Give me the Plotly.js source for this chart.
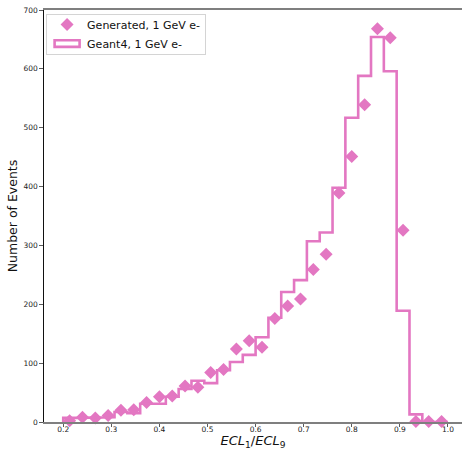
<!DOCTYPE html>
<html>
<head>
<meta charset="utf-8">
<script src="https://cdn.plot.ly/plotly-3.0.1.min.js"></script>
<style>html,body{margin:0;padding:0;background:#fff;}#chart{width:462px;height:450px;}</style>
</head>
<body>
<div id="chart"></div>
<script>
// Bin settings (30 bins from 0.2 to 1.0)
const binStart = 0.2;
const binEnd = 1.0;
const nBins = 30;

// Generated, 1 GeV e- (counts at bin centres)
const generatedCounts = [2, 8, 7, 11, 20, 21, 33, 43, 44, 61, 59, 84, 89, 124, 138, 127, 176, 197, 209, 259, 285, 389, 451, 539, 668, 653, 326, 1, 1, 1];

// Geant4, 1 GeV e- (histogram counts per bin)
const geantCounts = [7, 7, 7, 8, 17, 15, 31, 31, 43, 56, 70, 66, 88, 102, 114, 144, 177, 221, 241, 307, 322, 398, 517, 588, 654, 596, 189, 13, 0, 0];

const xTickVals = [0.2, 0.3, 0.4, 0.5, 0.6, 0.7, 0.8, 0.9, 1.0];
const xTickText = ["0.2", "0.3", "0.4", "0.5", "0.6", "0.7", "0.8", "0.9", "1.0"];
const yTickVals = [0, 100, 200, 300, 400, 500, 600, 700];

const pink = '#e377c2';
const w = (binEnd - binStart) / nBins;
const edges = [];
for (let i = 0; i <= nBins; i++) edges.push(binStart + i * w);
const centres = [];
for (let i = 0; i < nBins; i++) centres.push(binStart + (i + 0.5) * w);

// step outline
const stepX = [edges[0]];
const stepY = [0];
for (let i = 0; i < nBins; i++) {
  stepX.push(edges[i]); stepY.push(geantCounts[i]);
  stepX.push(edges[i + 1]); stepY.push(geantCounts[i]);
}
stepX.push(edges[nBins]); stepY.push(0);

const traces = [
  {
    x: centres, y: generatedCounts, type: 'scatter', mode: 'markers',
    name: 'Generated, 1 GeV e-',
    marker: {symbol: 'diamond', size: 10, color: pink, line: {width: 0}},
    cliponaxis: false
  },
  {
    x: stepX, y: stepY, type: 'scatter', mode: 'lines',
    name: 'Geant4, 1 GeV e-', showlegend: false,
    line: {color: pink, width: 2.6}
  },
  {
    // legend entry for the step histogram (outlined box)
    x: [null], y: [null], type: 'bar',
    name: 'Geant4, 1 GeV e-',
    marker: {color: 'rgba(0,0,0,0)', line: {color: pink, width: 2.6}}
  }
];

const tickFont = {family: 'DejaVu Sans', size: 7.5, color: '#222'};
const layout = {
  width: 462, height: 450,
  margin: {l: 44, r: 0, t: 10, b: 28},
  paper_bgcolor: '#fff', plot_bgcolor: '#fff',
  font: {family: 'DejaVu Sans', color: '#111'},
  showlegend: true,
  legend: {
    x: 0.005, y: 0.990, xanchor: 'left', yanchor: 'top',
    bgcolor: 'rgba(255,255,255,0.9)', bordercolor: '#d4d4d4', borderwidth: 1,
    font: {family: 'DejaVu Sans', size: 11, color: '#111'},
    itemwidth: 30, tracegroupgap: 0, traceorder: 'normal'
  },
  xaxis: {
    range: [0.16, 1.0292], tickvals: xTickVals, ticktext: xTickText,
    ticks: 'outside', ticklen: 3.5, tickwidth: 0.8, tickcolor: '#333',
    ticklabelstandoff: -4,
    tickfont: tickFont, showgrid: false, zeroline: false,
    showline: true, linecolor: '#7f7f7f', linewidth: 1.6, mirror: true,
    title: {text: '<i>ECL</i><sub>1</sub>/<i>ECL</i><sub>9</sub>', font: {family: 'DejaVu Sans', size: 13, color: '#111'}, standoff: 12}
  },
  yaxis: {
    range: [0, 700], tickvals: yTickVals,
    ticks: 'outside', ticklen: 3.5, tickwidth: 0.8, tickcolor: '#333',
    tickfont: tickFont, showgrid: false, zeroline: false,
    showline: true, linecolor: '#111', linewidth: 1.2,
    title: {text: 'Number of Events', font: {family: 'DejaVu Sans', size: 12.5, color: '#111'}, standoff: 3}
  }
};

function fixLegend(gd) {
  const leg = gd.querySelector('g.legend');
  if (!leg || leg.getAttribute('data-fixed')) return;
  leg.setAttribute('data-fixed', '1');
  // wide outlined rectangle like matplotlib's step-histogram legend patch
  leg.querySelectorAll('path').forEach(function (p) {
    const d = (p.getAttribute('d') || '').replace(/\s/g, '');
    if (d === 'M6,6H-6V-6H6Z') p.setAttribute('d', 'M12.5,3.3H-12.5V-3.3H12.5Z');
  });
  // tighten vertical padding
  const shift = 5;
  leg.querySelectorAll('g.traces').forEach(function (t) {
    const tr = t.getAttribute('transform') || '';
    const m = tr.match(/translate\(\s*([-\d.e]+)[ ,]+([-\d.e]+)\s*\)/);
    if (m) t.setAttribute('transform', 'translate(' + m[1] + ',' + (parseFloat(m[2]) - shift) + ')');
  });
  const bg = leg.querySelector('rect.bg');
  if (bg) {
    const h = parseFloat(bg.getAttribute('height'));
    if (!isNaN(h)) bg.setAttribute('height', h - 2 * shift + 1);
  }
}

Plotly.newPlot('chart', traces, layout, {displayModeBar: false, staticPlot: true}).then(function (gd) {
  fixLegend(gd);
});
</script>
</body>
</html>
